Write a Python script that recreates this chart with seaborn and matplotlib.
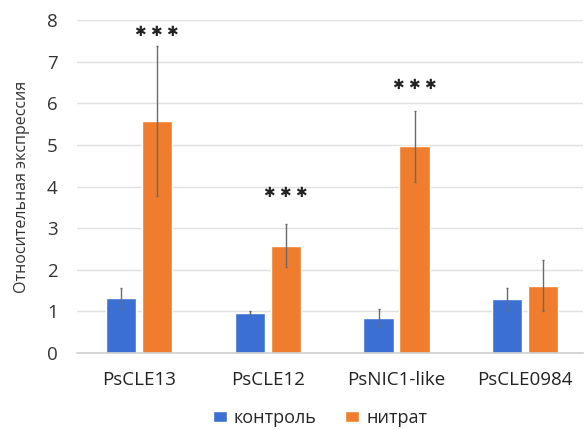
import matplotlib
matplotlib.use("Agg")
import matplotlib.pyplot as plt
import seaborn as sns
import pandas as pd
import numpy as np

genes = ["PsCLE13", "PsCLE12", "PsNIC1-like", "PsCLE0984"]
groups = ["контроль", "нитрат"]
control_vals = [1.32, 0.97, 0.85, 1.30]
control_err = [0.25, 0.03, 0.21, 0.26]
nitrate_vals = [5.58, 2.58, 4.97, 1.62]
nitrate_err = [1.80, 0.52, 0.85, 0.62]
stars = ["***", "***", "***", ""]
star_y = [7.72, 3.85, 6.45, 0]

sns.set_theme(style="whitegrid")
plt.rcParams['font.family'] = ['Open Sans', 'DejaVu Sans']

df = pd.DataFrame({
    "gene": genes * 2,
    "group": [groups[0]] * 4 + [groups[1]] * 4,
    "value": control_vals + nitrate_vals,
})

fig = plt.figure(figsize=(5.85, 4.29), dpi=100)
ax = fig.add_axes([0.132, 0.177, 0.865, 0.776])
palette = {"контроль": "#3c6fd4", "нитрат": "#ef7d2d"}
W = 0.56
sns.barplot(data=df, x="gene", y="value", hue="group", palette=palette,
            width=W, gap=0.16, errorbar=None, ax=ax, saturation=1)

offs = W / 4
x = np.arange(len(genes))
ax.errorbar(x - offs, control_vals, yerr=control_err, fmt="none",
            ecolor="#6a6a6a", elinewidth=1, capsize=1, capthick=1)
ax.errorbar(x + offs, nitrate_vals, yerr=nitrate_err, fmt="none",
            ecolor="#6a6a6a", elinewidth=1, capsize=1, capthick=1)

for i, s in enumerate(stars):
    if s:
        ax.text(x[i] + offs, star_y[i], " ".join("✱" * len(s)),
                ha="center", va="center", fontsize=10, color="#222222",
                family="DejaVu Sans")

ax.set_ylim(0, 8)
ax.set_xlim(-0.48, 3.45)
ax.set_yticks(range(0, 9))
ax.set_xlabel("")
ax.set_ylabel("Относительная экспрессия", fontsize=11.5, color="#333333", labelpad=12)
ax.tick_params(axis="y", labelsize=13.5, colors="#333333", pad=14, length=0)
ax.tick_params(axis="x", labelsize=13.5, colors="#222222", pad=13, length=0)
ax.grid(axis="x", visible=False)
ax.grid(axis="y", color="#e0e0e0", linewidth=1)
for side in ["top", "right", "left"]:
    ax.spines[side].set_visible(False)
ax.spines["bottom"].set_color("#cfcfcf")
ax.spines["bottom"].set_linewidth(1.2)

leg = ax.legend(loc="upper center", bbox_to_anchor=(0.48, -0.118), ncol=2,
                frameon=False, fontsize=13, handlelength=0.75, handleheight=0.6,
                handletextpad=0.4, columnspacing=1.6)

fig.savefig("out.png", dpi=100)
